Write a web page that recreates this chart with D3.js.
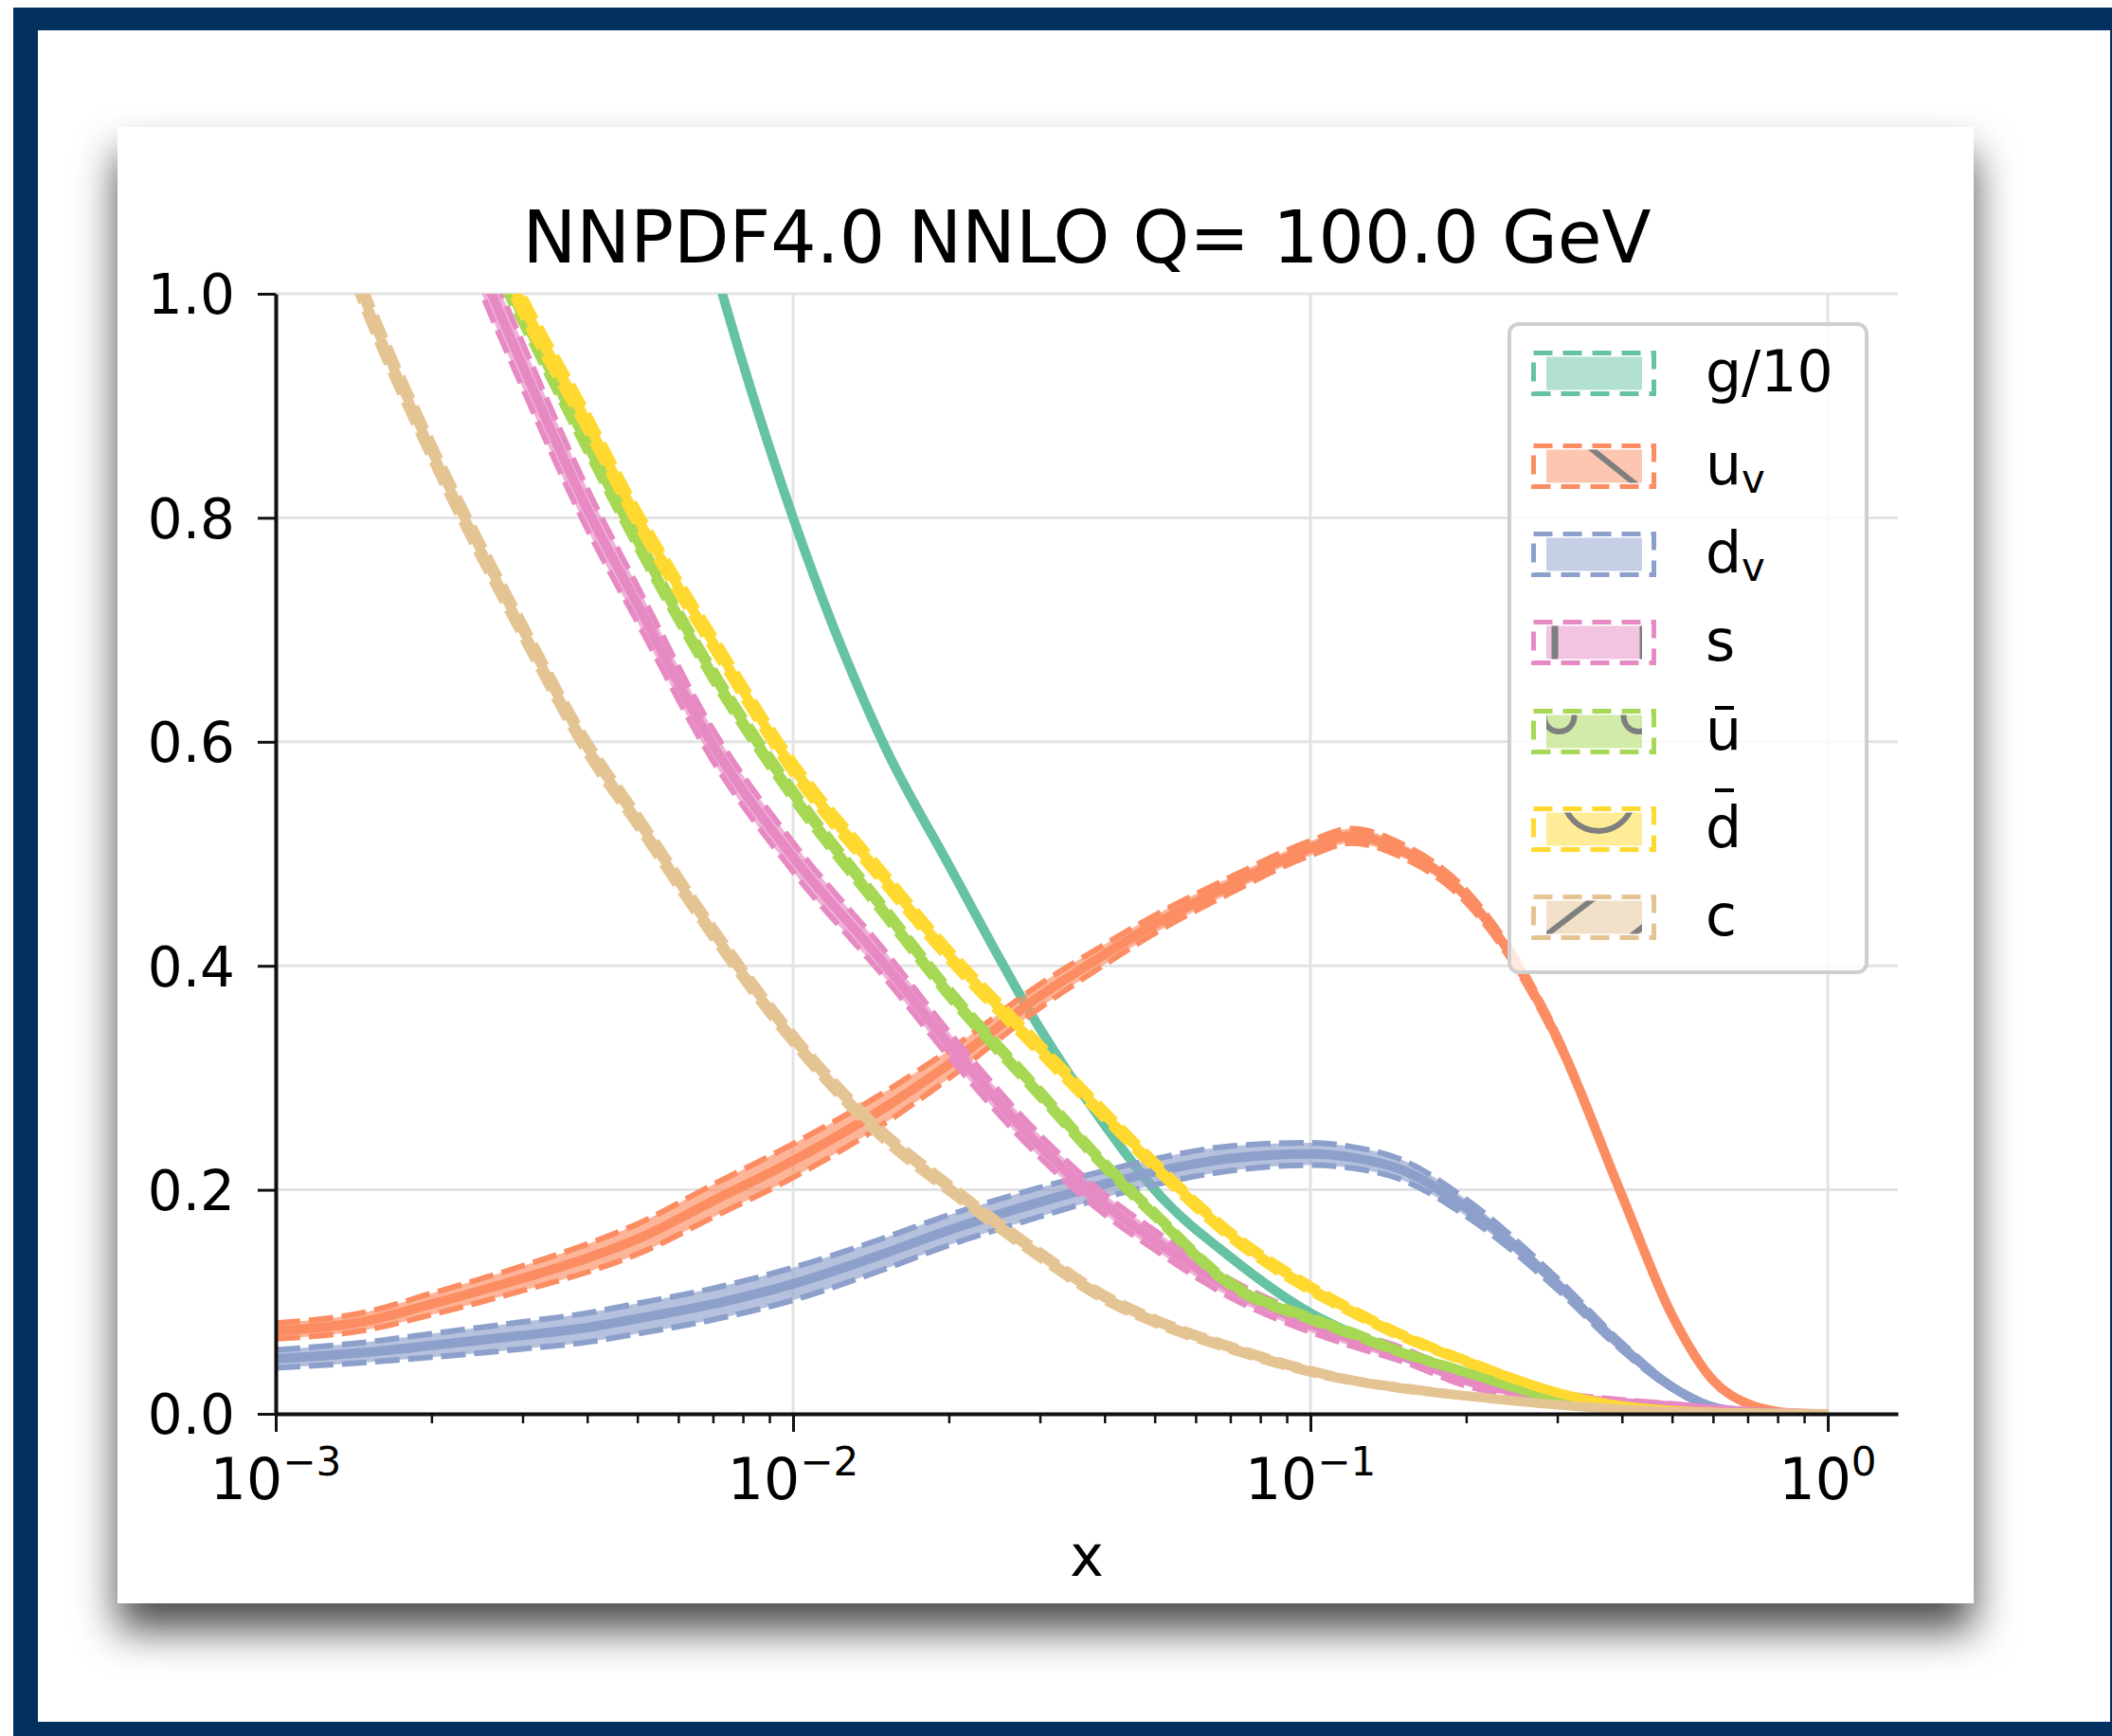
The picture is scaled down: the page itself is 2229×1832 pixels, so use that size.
<!DOCTYPE html>
<html>
<head>
<meta charset="utf-8">
<script src="https://cdn.jsdelivr.net/npm/d3@7"></script>
<style>
  html, body { margin: 0; padding: 0; background: #fff; }
  svg { display: block; }
  text { font-family: 'DejaVu Sans', sans-serif; fill: #000; }
</style>
</head>
<body>
<svg id="chart" width="2229" height="1832"></svg>
<script>
// sampled x points (shared by every flavour)
const xGrid = [0.001, 0.0015, 0.002, 0.003, 0.004, 0.005, 0.007, 0.01, 0.015, 0.02, 0.03, 0.04, 0.05,
  0.07, 0.1, 0.12, 0.15, 0.2, 0.3, 0.4, 0.5, 0.6, 0.7, 0.8, 0.9, 1.0];

// central values (values above 1 are off the top of the plot)
const gluon10 = [3.3, 2.7, 2.3, 1.8, 1.5, 1.3, 1.03, 0.80, 0.597, 0.49, 0.344, 0.258, 0.20, 0.14, 0.09,
  0.072, 0.052, 0.033, 0.013, 0.005, 0.002, 0.0008, 0.0003, 0.0001, 0, 0];
const upValence = [0.074, 0.083, 0.098, 0.121, 0.139, 0.156, 0.19, 0.226, 0.273, 0.312, 0.373, 0.41, 0.437,
  0.472, 0.505, 0.516, 0.503, 0.462, 0.335, 0.195, 0.088, 0.030, 0.009, 0.002, 0.0003, 0];
const downValence = [0.049, 0.055, 0.061, 0.070, 0.077, 0.085, 0.098, 0.116, 0.143, 0.164, 0.189, 0.205, 0.216,
  0.228, 0.232, 0.229, 0.218, 0.184, 0.116, 0.060, 0.024, 0.006, 0.0015, 0.0003, 0, 0];
const strange = [1.55, 1.28, 1.13, 0.936, 0.808, 0.723, 0.597, 0.497, 0.402, 0.33, 0.239, 0.187, 0.155,
  0.112, 0.080, 0.067, 0.053, 0.030, 0.015, 0.010, 0.007, 0.004, 0.002, 0.001, 0.0003, 0];
const upBar = [1.45, 1.26, 1.14, 0.98, 0.865, 0.779, 0.66, 0.553, 0.449, 0.376, 0.286, 0.222, 0.178,
  0.116, 0.085, 0.072, 0.055, 0.037, 0.013, 0.004, 0.0015, 0.0005, 0.0002, 0, 0, 0];
const downBar = [1.5, 1.3, 1.17, 0.99, 0.885, 0.80, 0.689, 0.577, 0.478, 0.41, 0.326, 0.267, 0.222,
  0.16, 0.112, 0.092, 0.07, 0.047, 0.019, 0.007, 0.003, 0.0012, 0.0005, 0.0002, 0, 0];
const charm = [1.22, 0.99, 0.86, 0.70, 0.595, 0.53, 0.43, 0.335, 0.248, 0.202, 0.142, 0.104, 0.083,
  0.059, 0.038, 0.030, 0.023, 0.016, 0.008, 0.004, 0.002, 0.001, 0.0005, 0.0002, 0, 0];

// half widths of the uncertainty bands
const gluon10Err = [0.004, 0.003, 0.003, 0.002, 0.002, 0.002, 0.002, 0.0015, 0.0012, 0.001, 0.001, 0.001, 0.001,
  0.001, 0.001, 0.001, 0.001, 0.0008, 0.0005, 0.0003, 0.0001, 0, 0, 0, 0, 0];
const upValenceErr = [0.007, 0.008, 0.0095, 0.011, 0.0125, 0.0135, 0.0145, 0.015, 0.014, 0.0125, 0.0105, 0.009, 0.008,
  0.007, 0.0065, 0.0065, 0.006, 0.0055, 0.0045, 0.0035, 0.0025, 0.0012, 0.0006, 0.0002, 0, 0];
const downValenceErr = [0.008, 0.009, 0.0105, 0.012, 0.013, 0.0135, 0.014, 0.0145, 0.014, 0.0135, 0.013, 0.012, 0.0115,
  0.011, 0.010, 0.0095, 0.009, 0.0075, 0.005, 0.0035, 0.0018, 0.0008, 0.0003, 0.0001, 0, 0];
const strangeErr = [0.025, 0.023, 0.021, 0.02, 0.018, 0.016, 0.014, 0.013, 0.012, 0.011, 0.010, 0.009, 0.0085,
  0.008, 0.007, 0.0065, 0.006, 0.005, 0.0035, 0.0025, 0.0018, 0.0012, 0.0006, 0.0002, 0, 0];
const upBarErr = [0.012, 0.011, 0.010, 0.009, 0.008, 0.0075, 0.007, 0.0065, 0.006, 0.0055, 0.005, 0.0045, 0.004,
  0.0035, 0.003, 0.003, 0.0025, 0.002, 0.0012, 0.0006, 0.0003, 0.0001, 0, 0, 0, 0];
const downBarErr = [0.014, 0.013, 0.012, 0.011, 0.010, 0.009, 0.008, 0.0075, 0.007, 0.0065, 0.006, 0.0055, 0.005,
  0.0045, 0.004, 0.0035, 0.003, 0.0025, 0.0015, 0.0008, 0.0004, 0.0002, 0.0001, 0, 0, 0];
const charmErr = [0.012, 0.011, 0.010, 0.009, 0.008, 0.0075, 0.007, 0.006, 0.0055, 0.005, 0.0045, 0.004, 0.0035,
  0.003, 0.0025, 0.002, 0.002, 0.0015, 0.001, 0.0006, 0.0003, 0.0001, 0, 0, 0, 0];

const yTickValues = [0, 0.2, 0.4, 0.6, 0.8, 1.0];
const xTickValues = [1e-3, 1e-2, 1e-1, 1];
const xTickExponents = ['\u22123', '\u22122', '\u22121', '0'];
const titleText = 'NNPDF4.0 NNLO Q= 100.0 GeV';
const xLabelText = 'x';

const flavours = [
  { name: 'g/10', sub: null, bar: false, values: gluon10, errors: gluon10Err, color: '#66c2a5', hatch: null },
  { name: 'u', sub: 'v', bar: false, values: upValence, errors: upValenceErr, color: '#fc8d62', hatch: 'back' },
  { name: 'd', sub: 'v', bar: false, values: downValence, errors: downValenceErr, color: '#8da0cb', hatch: null },
  { name: 's', sub: null, bar: false, values: strange, errors: strangeErr, color: '#e78ac3', hatch: 'vert' },
  { name: 'u', sub: null, bar: true, values: upBar, errors: upBarErr, color: '#a6d854', hatch: 'rings' },
  { name: 'd', sub: null, bar: true, values: downBar, errors: downBarErr, color: '#ffd92f', hatch: 'ring' },
  { name: 'c', sub: null, bar: false, values: charm, errors: charmErr, color: '#e5c494', hatch: 'fwd' },
];

const svg = d3.select('#chart');
const navy = '#02315f';

// page frame and card
const defs = svg.append('defs');
const shadow = defs.append('filter').attr('id', 'cardShadow')
  .attr('x', '-10%').attr('y', '-10%').attr('width', '120%').attr('height', '130%');
shadow.append('feDropShadow').attr('dx', 0).attr('dy', 28).attr('stdDeviation', 22)
  .attr('flood-color', '#000').attr('flood-opacity', 0.7);

svg.append('rect').attr('x', 14).attr('y', 8).attr('width', 2300).attr('height', 1900).attr('fill', navy);
svg.append('rect').attr('x', 40).attr('y', 32).attr('width', 2187).attr('height', 1785).attr('fill', '#fff');
svg.append('rect').attr('x', 124).attr('y', 134).attr('width', 1959).attr('height', 1558)
  .attr('fill', '#fff').attr('filter', 'url(#cardShadow)');

// plot area
const plot = { left: 291, right: 2003, top: 310, bottom: 1492 };
const x = d3.scaleLog().domain([1e-3, 1.366]).range([plot.left, plot.right]);
const y = d3.scaleLinear().domain([0, 1]).range([plot.bottom, plot.top]);

defs.append('clipPath').attr('id', 'plotClip').append('rect')
  .attr('x', plot.left).attr('y', plot.top)
  .attr('width', plot.right - plot.left).attr('height', plot.bottom - plot.top);

// grid
const grid = svg.append('g').attr('stroke', '#e3e3e3').attr('stroke-width', 3);
grid.selectAll('.hgrid').data(yTickValues).enter().append('line')
  .attr('x1', plot.left).attr('x2', plot.right)
  .attr('y1', (d) => y(d)).attr('y2', (d) => y(d));
grid.selectAll('.vgrid').data(xTickValues).enter().append('line')
  .attr('y1', plot.top).attr('y2', plot.bottom)
  .attr('x1', (d) => x(d)).attr('x2', (d) => x(d));

// curves
const curves = svg.append('g').attr('clip-path', 'url(#plotClip)');
const line = (key) => d3.line()
  .x((d) => x(d.x)).y((d) => y(d[key]))
  .curve(d3.curveMonotoneX);
const band = d3.area()
  .x((d) => x(d.x)).y0((d) => y(d.lo)).y1((d) => y(d.hi))
  .curve(d3.curveMonotoneX);

flavours.forEach((f) => {
  const pts = xGrid.map((xv, i) => ({
    x: xv, v: f.values[i], lo: f.values[i] - f.errors[i], hi: f.values[i] + f.errors[i],
  }));
  const g = curves.append('g');
  g.append('path').attr('d', band(pts)).attr('fill', f.color).attr('fill-opacity', 0.65);
  ['lo', 'hi'].forEach((k) => {
    g.append('path').attr('d', line(k)(pts))
      .attr('fill', 'none').attr('stroke', f.color).attr('stroke-width', 6)
      .attr('stroke-dasharray', '26 9');
  });
  g.append('path').attr('d', line('v')(pts))
    .attr('fill', 'none').attr('stroke', f.color).attr('stroke-width', 10);
});

// axes
const yAxis = svg.append('g').attr('transform', `translate(${plot.left},0)`)
  .call(d3.axisLeft(y).tickValues(yTickValues).tickSize(19).tickSizeOuter(0).tickPadding(24)
    .tickFormat(d3.format('.1f')));
yAxis.select('.domain').attr('stroke', '#111').attr('stroke-width', 4);
yAxis.selectAll('.tick line').attr('stroke', '#111').attr('stroke-width', 3);
yAxis.selectAll('.tick text').attr('font-size', 58).attr('font-family', 'DejaVu Sans').attr('fill', '#000')
  .attr('dy', '0.36em');

const minorTicks = x.ticks().filter((t) => !xTickValues.includes(t) && t <= 1.366);
const xMinor = svg.append('g').attr('transform', `translate(0,${plot.bottom})`)
  .call(d3.axisBottom(x).tickValues(minorTicks).tickSize(10).tickSizeOuter(0).tickFormat(() => ''));
xMinor.select('.domain').remove();
xMinor.selectAll('.tick line').attr('stroke', '#111').attr('stroke-width', 2.5);

const xAxis = svg.append('g').attr('transform', `translate(0,${plot.bottom})`)
  .call(d3.axisBottom(x).tickValues(xTickValues).tickSize(19).tickSizeOuter(0).tickFormat(() => ''));
xAxis.select('.domain').attr('stroke', '#111').attr('stroke-width', 4);
xAxis.selectAll('.tick line').attr('stroke', '#111').attr('stroke-width', 3);

const xLabels = svg.append('g');
xTickValues.forEach((t, i) => {
  const label = xLabels.append('text').attr('x', x(t)).attr('y', 1582)
    .attr('text-anchor', 'middle').attr('font-size', 60);
  label.append('tspan').text('10');
  label.append('tspan').attr('dy', -25).attr('font-size', 42).text(xTickExponents[i]);
});

svg.append('text').attr('x', (plot.left + plot.right) / 2).attr('y', 1663)
  .attr('text-anchor', 'middle').attr('font-size', 60).text(xLabelText);

svg.append('text').attr('x', (plot.left + plot.right) / 2).attr('y', 277)
  .attr('text-anchor', 'middle').attr('font-size', 76).text(titleText);

// legend
const legend = svg.append('g');
legend.append('rect').attr('x', 1593).attr('y', 342).attr('width', 377).attr('height', 684)
  .attr('rx', 10).attr('fill', '#fff').attr('fill-opacity', 0.8)
  .attr('stroke', '#cfcfcf').attr('stroke-width', 4);

const rowCentres = [394, 492, 585, 678, 772, 875, 968];
const cx = 1682.5;

const drawHatch = (g, kind, cy) => {
  const h = g.append('g').attr('stroke', '#7f7f7f').attr('stroke-width', 6).attr('fill', 'none');
  if (kind === 'back') {
    h.append('line').attr('x1', cx - 20).attr('y1', cy - 32).attr('x2', cx + 60).attr('y2', cy + 32);
  } else if (kind === 'vert') {
    h.append('line').attr('x1', cx - 41.5).attr('y1', cy - 30).attr('x2', cx - 41.5).attr('y2', cy + 30)
      .attr('stroke-width', 7);
    h.append('line').attr('x1', cx + 50).attr('y1', cy - 30).attr('x2', cx + 50).attr('y2', cy + 30)
      .attr('stroke-width', 4);
  } else if (kind === 'rings') {
    h.append('circle').attr('cx', cx - 37).attr('cy', cy - 16).attr('r', 16);
    h.append('circle').attr('cx', cx + 47).attr('cy', cy - 16).attr('r', 16);
  } else if (kind === 'ring') {
    h.append('circle').attr('cx', cx + 4.5).attr('cy', cy - 35).attr('r', 37);
  } else if (kind === 'fwd') {
    [0, 91].forEach((s) => {
      h.append('line').attr('x1', cx - 70 + s).attr('y1', cy + 33.5)
        .attr('x2', cx + 20 + s).attr('y2', cy - 35.5);
    });
  }
};

flavours.forEach((f, i) => {
  const cy = rowCentres[i];
  const row = legend.append('g');
  const clipId = `hatchClip${i}`;
  defs.append('clipPath').attr('id', clipId).append('rect')
    .attr('x', cx - 50.5).attr('y', cy - 17.5).attr('width', 101).attr('height', 35);
  row.append('rect').attr('x', cx - 50.5).attr('y', cy - 17.5).attr('width', 101).attr('height', 35)
    .attr('fill', f.color).attr('fill-opacity', 0.5);
  if (f.hatch) drawHatch(row.append('g').attr('clip-path', `url(#${clipId})`), f.hatch, cy);
  row.append('rect').attr('x', cx - 64).attr('y', cy - 21.5).attr('width', 127).attr('height', 43)
    .attr('fill', 'none').attr('stroke', f.color).attr('stroke-width', 5)
    .attr('stroke-dasharray', '20 11');

  const label = row.append('text').attr('x', 1800).attr('y', cy + 19).attr('font-size', 60);
  label.append('tspan').text(f.name);
  if (f.sub) label.append('tspan').attr('dy', 9).attr('font-size', 42).text(f.sub);
  if (f.bar) {
    const barY = f.name === 'd' ? cy - 41 : cy - 25;
    row.append('line').attr('x1', 1810).attr('x2', 1830).attr('y1', barY).attr('y2', barY)
      .attr('stroke', '#000').attr('stroke-width', 4);
  }
});
</script>
</body>
</html>
